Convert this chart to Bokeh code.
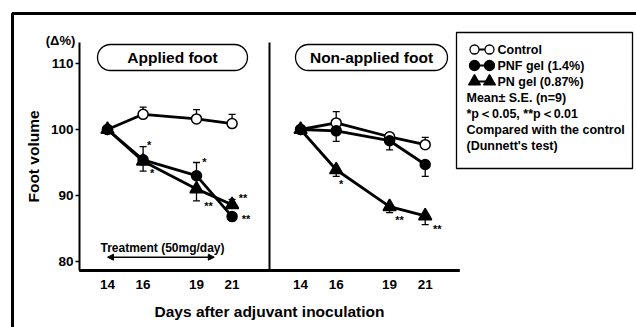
import numpy as np
from bokeh.plotting import figure
from bokeh.models import (Range1d, FixedTicker, ColumnDataSource, BoxAnnotation,
                          Label, Arrow, NormalHead)
from bokeh.transform import dodge
from bokeh.core.properties import value
from bokeh.embed import file_html
from bokeh.resources import INLINE

# ---------------- data ----------------
days = [14, 16, 19, 21]
day_labels = ["14", "16", "19", "21"]
y_ticks = [80, 90, 100, 110]

# Applied foot (mean, signed S.E.: + drawn upward, - drawn downward)
ctrl_applied = [100.0, 102.3, 101.6, 100.9]
ctrl_applied_se = [0.0, 1.1, 1.4, 1.4]
pnf_applied = [100.0, 95.4, 93.0, 86.8]
pnf_applied_se = [0.0, 2.0, 2.0, 0.0]
pn_applied = [100.0, 95.2, 91.0, 88.6]
pn_applied_se = [0.0, -1.5, -1.8, 0.8]

# Non-applied foot
ctrl_non = [100.0, 101.0, 98.9, 97.7]
ctrl_non_se = [0.0, 1.7, 0.6, 1.1]
pnf_non = [100.0, 99.8, 98.3, 94.7]
pnf_non_se = [0.0, -1.6, -1.4, -1.8]
pn_non = [100.0, 93.9, 88.3, 86.9]
pn_non_se = [0.0, -1.0, -0.9, -1.3]

# significance marks
sig_pnf_applied = ["", "*", "*", "**"]
sig_pn_applied = ["", "*", "**", "**"]
sig_pn_non = ["", "*", "**", "**"]

treatment_days = [14, 20]

# ---------------- layout constants (page pixels) ----------------
W, H = 636, 327
PX_PER_DAY = 17.8
PX_PER_UNIT = 6.6
X14_PX, Y100_PX = 107, 129          # where day 14 / value 100 sit
AX_X_PX, AX_Y_PX = 79, 270           # y-axis line x / x-axis line y
AX_X_END_PX, AX_Y_TOP_PX = 459, 42
RIGHT_SHIFT_PX = 193.1

XMIN = 14 - X14_PX / PX_PER_DAY
YMIN = 100 - (H - Y100_PX) / PX_PER_UNIT
X_AX = 14 - (X14_PX - AX_X_PX) / PX_PER_DAY
Y_AX = 100 - (AX_Y_PX - Y100_PX) / PX_PER_UNIT
X_AX_END = X_AX + (AX_X_END_PX - AX_X_PX) / PX_PER_DAY
Y_AX_TOP = 100 + (Y100_PX - AX_Y_TOP_PX) / PX_PER_UNIT
RIGHT_OFF = RIGHT_SHIFT_PX / PX_PER_DAY
SPLIT = (X_AX + X_AX_END) / 2
HALF_LINE = 1.4 / PX_PER_UNIT   # half thickness of the baseline, in y units

FONT = "Liberation Sans"

p = figure(width=W, height=H, output_backend="svg", toolbar_location=None,
           title=None,
           x_range=Range1d(XMIN, XMIN + W / PX_PER_DAY),
           y_range=Range1d(YMIN, YMIN + H / PX_PER_UNIT),
           min_border_left=0, min_border_right=0, min_border_top=0,
           min_border_bottom=0)
p.extra_x_ranges = {"px": Range1d(0, W)}
p.extra_y_ranges = {"py": Range1d(H, 0)}
p.outline_line_color = None
p.xgrid.visible = False
p.ygrid.visible = False
p.background_fill_color = "white"
p.border_fill_color = "white"

# axes (fixed inside the full-canvas frame)
xticks = list(days) + [d + RIGHT_OFF for d in days]
p.xaxis.fixed_location = Y_AX
p.xaxis.ticker = FixedTicker(ticks=xticks)
p.xaxis.major_label_overrides = {t: lab for t, lab in zip(xticks, day_labels + day_labels)}
p.xaxis.bounds = (X_AX, X_AX_END)
p.xaxis.minor_tick_line_color = None
p.xaxis.major_tick_out = 0
p.xaxis.major_tick_in = 0
p.xaxis.axis_line_width = 2.5
p.xaxis.major_label_standoff = 9
p.xaxis.axis_label = "Days after adjuvant inoculation"
p.xaxis.axis_label_standoff = 11

p.yaxis.fixed_location = X_AX
p.yaxis.ticker = FixedTicker(ticks=y_ticks)
p.yaxis.bounds = (Y_AX, Y_AX_TOP)
p.yaxis.minor_tick_line_color = None
p.yaxis.major_tick_out = 4
p.yaxis.major_tick_in = 0
p.yaxis.major_tick_line_width = 1.5
p.yaxis.axis_line_width = 2
p.yaxis.major_label_standoff = 2
p.yaxis.axis_label = "Foot volume"
p.yaxis.axis_label_standoff = 6

for ax in (p.xaxis, p.yaxis):
    ax.major_label_text_font = FONT
    ax.major_label_text_font_style = "bold"
    ax.major_label_text_font_size = "13.5px"
    ax.major_label_text_color = "black"
    ax.axis_label_text_font = FONT
    ax.axis_label_text_font_style = "bold"
    ax.axis_label_text_font_size = "15.5px"
    ax.axis_label_text_color = "black"
    ax.axis_line_color = "black"
    ax.major_tick_line_color = "black"

# panel divider and baseline
p.segment(x0=[SPLIT], y0=[Y_AX], x1=[SPLIT], y1=[Y_AX_TOP],
          line_color="black", line_width=2)
p.line(x=[X_AX, X_AX_END], y=[Y_AX, Y_AX], line_color="black", line_width=2.5)
p.quad(left=[X_AX], right=[X_AX_END], bottom=[Y_AX - HALF_LINE], top=[Y_AX + HALF_LINE],
       fill_color="black", line_color=None)


def draw_series(vals, se, off, marker, fill, size):
    vals = np.asarray(vals)
    se = np.asarray(se)
    src = ColumnDataSource(dict(day=days, v=vals, end=vals + se))
    xs = dodge("day", off)
    p.line(x=xs, y="v", source=src, line_color="black", line_width=2.8)
    p.segment(x0=xs, y0="v", x1=xs, y1="end", source=src, line_color="black", line_width=1.3)
    keep = se != 0
    cap = ColumnDataSource(dict(day=np.asarray(days)[keep], end=(vals + se)[keep]))
    p.scatter(x=dodge("day", off), y="end", source=cap, marker="dash", size=7,
              line_color="black", line_width=1.3)
    p.scatter(x=xs, y="v", source=src, marker=marker, size=size,
              fill_color=fill, line_color="black", line_width=1.5)


for off, series in ((0.0, [(ctrl_applied, ctrl_applied_se, "circle", "white", 10),
                           (pn_applied, pn_applied_se, "triangle", "black", 13),
                           (pnf_applied, pnf_applied_se, "circle", "black", 10)]),
                    (RIGHT_OFF, [(ctrl_non, ctrl_non_se, "circle", "white", 10),
                                 (pn_non, pn_non_se, "triangle", "black", 13),
                                 (pnf_non, pnf_non_se, "circle", "black", 10)])):
    for vals, se, mk, fc, sz in series:
        draw_series(vals, se, off, mk, fc, sz)

# significance asterisks (anchored at error-bar ends)
star_dx = {"pnf_a": [0, 6, 8, 14], "pn_a": [0, 9, 12, 11], "pn_n": [0, 5, 10, 12]}
star_dy = {"pnf_a": [0, -2, -1, 2], "pn_a": [0, 2, 5, -1], "pn_n": [0, 8, 7, 4]}


def draw_stars(vals, se, sig, off, key):
    end = np.asarray(vals) + np.asarray(se)
    idx = [i for i, s in enumerate(sig) if s]
    src = ColumnDataSource(dict(day=[days[i] for i in idx], y=[end[i] for i in idx],
                                t=[sig[i] for i in idx],
                                dx=[star_dx[key][i] for i in idx],
                                dy=[star_dy[key][i] for i in idx]))
    p.text(x=dodge("day", off), y="y", text="t", source=src, x_offset="dx", y_offset="dy",
           text_font=value(FONT), text_font_size="11px", text_font_style="bold",
           text_align="center", text_baseline="middle", text_color="black")


draw_stars(pnf_applied, pnf_applied_se, sig_pnf_applied, 0.0, "pnf_a")
draw_stars(pn_applied, pn_applied_se, sig_pn_applied, 0.0, "pn_a")
draw_stars(pn_non, pn_non_se, sig_pn_non, RIGHT_OFF, "pn_n")

# treatment arrow
p.add_layout(Arrow(start=NormalHead(size=6, fill_color="black", line_color="black"),
                   end=NormalHead(size=6, fill_color="black", line_color="black"),
                   x_start=treatment_days[0], x_end=treatment_days[1],
                   y_start=256.7, y_end=256.7, y_range_name="py",
                   line_width=1.5, line_color="black"))


def label(txt, x, y, size="12.5px", align="left"):
    p.add_layout(Label(x=x, y=y, x_range_name="px", y_range_name="py", text=txt,
                       text_font=FONT, text_font_style="bold", text_font_size=size,
                       text_align=align, text_baseline="middle", text_color="black"))


label("Treatment (50mg/day)", 100, 247, "12px")
label("(Δ%)", 60, 40, "13px", "center")

# panel title pills
for (l, r, txt) in ((97, 247, "Applied foot"), (295, 447, "Non-applied foot")):
    p.add_layout(BoxAnnotation(left=l, right=r, top=44, bottom=70, x_range_name="px",
                               y_range_name="py", fill_alpha=0, line_color="black",
                               line_alpha=1, line_width=1.3, border_radius=13))
    label(txt, (l + r) / 2, 57, "15.5px", "center")

# legend box
p.add_layout(BoxAnnotation(left=456, right=632, top=32, bottom=168, x_range_name="px",
                           y_range_name="py", fill_alpha=0, line_color="black",
                           line_alpha=1, line_width=1.3))
leg_rows = [49, 65, 81]
leg_x = [474, 489]
for yy, (mk, fc, sz), txt in zip(leg_rows,
                                 [("circle", "white", 9), ("circle", "black", 10), ("triangle", "black", 12)],
                                 ["Control", "PNF gel (1.4%)", "PN gel (0.87%)"]):
    p.line(x=leg_x, y=[yy, yy], x_range_name="px", y_range_name="py", line_color="black", line_width=2)
    p.scatter(x=leg_x, y=[yy, yy], x_range_name="px", y_range_name="py", marker=mk, size=sz,
              fill_color=fc, line_color="black", line_width=1.3)
    label(txt, 497, yy)
for yy, txt in zip([97, 113, 129, 145],
                   ["Mean± S.E. (n=9)", "*p＜0.05,  **p＜0.01",
                    "Compared with the control", "(Dunnett's test)"]):
    label(txt, 466, yy)

# outer frame (left and top edges)
p.add_layout(BoxAnnotation(left=12, right=2000, top=13, bottom=2000, x_range_name="px",
                           y_range_name="py", fill_alpha=0, line_color="black",
                           line_alpha=1, line_width=3))

open("out.html", "w").write(file_html(p, INLINE))
